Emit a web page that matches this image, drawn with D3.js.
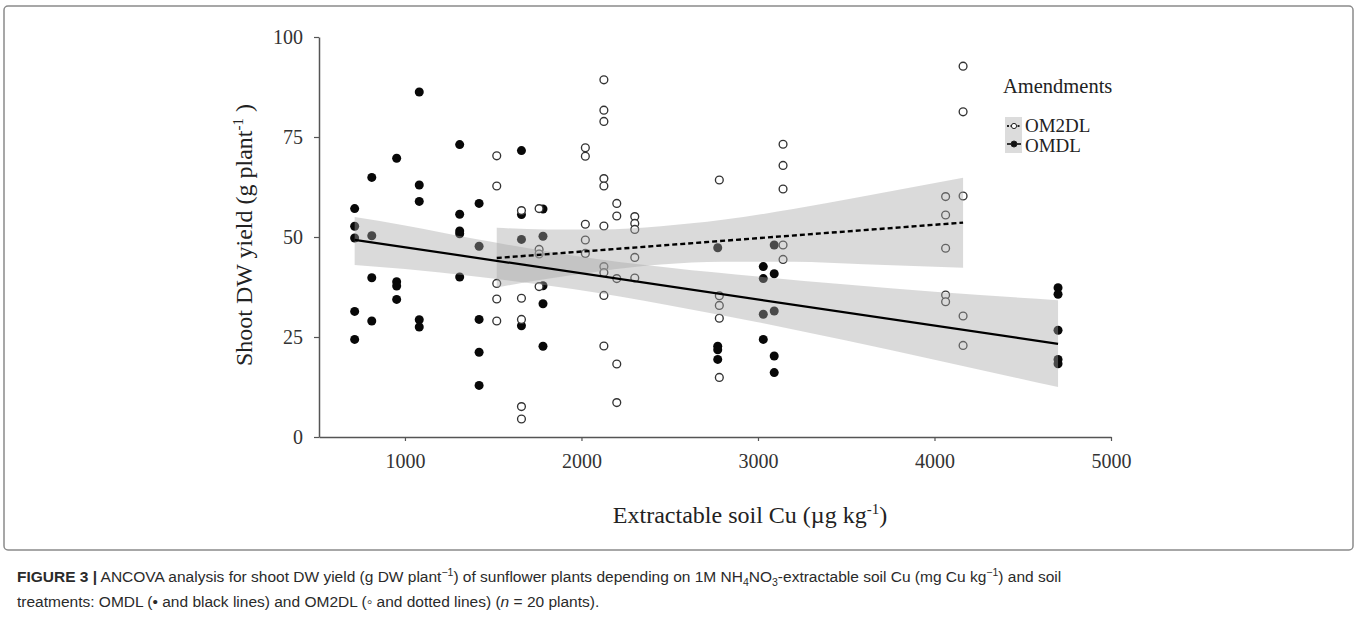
<!DOCTYPE html>
<html><head><meta charset="utf-8">
<script src="https://cdn.jsdelivr.net/npm/d3@7/dist/d3.min.js"></script>
<style>
html,body{margin:0;padding:0;background:#fff;}
svg{display:block;}
</style></head>
<body>
<svg id="chart" width="1360" height="623"></svg>
<script>
// ---------- data ----------
const xTicks = [1000, 2000, 3000, 4000, 5000];
const yTicks = [0, 25, 50, 75, 100];

// OMDL (filled dots): x positions and y values
const omdlX = [715,715,715,715,715, 812,812,812,812, 953,953,953,953,
  1081,1081,1081,1081,1081, 1310,1310,1310,1310,1310, 1420,1420,1420,1420,1420,
  1660,1660,1660,1660, 1782,1782,1782,1782,1782, 2772,2772,2772,2772,
  3030,3030,3030,3030, 3092,3092,3092,3092,3092, 4700,4700,4700,4700,4700];
const omdlY = [57.1,52.7,49.75,31.4,24.4, 64.9,50.3,39.8,29.0, 69.7,38.8,37.75,34.4,
  86.25,63.0,58.9,29.3,27.5, 73.1,55.7,51.5,50.8,40.0, 58.4,47.7,29.4,21.2,12.9,
  71.6,55.6,49.4,27.8, 57.0,50.2,37.8,33.3,22.7, 47.3,22.7,21.8,19.4,
  42.6,39.6,30.7,24.4, 48.0,40.8,31.5,20.25,16.1, 37.3,35.7,26.7,19.4,18.3];

// OM2DL (open circles)
const om2dlX = [1520,1520,1520,1520,1520, 1660,1660,1660,1660,1660, 1760,1760,1760,1760,
  2022,2022,2022,2022,2022, 2127,2127,2127,2127,2127,2127,2127,2127,2127,2127,
  2200,2200,2200,2200,2200, 2302,2302,2302,2302,2302, 2781,2781,2781,2781,2781,
  3142,3142,3142,3142,3142, 4063,4063,4063,4063,4063, 4162,4162,4162,4162,4162];
const om2dlY = [70.3,62.75,38.4,34.5,29.0, 56.6,34.7,29.4,7.6,4.5, 57.1,46.9,45.75,37.6,
  72.3,70.2,53.2,49.25,45.9, 89.3,81.7,78.9,64.6,62.75,52.75,42.6,41.1,35.4,22.75,
  58.4,55.25,39.6,18.25,8.6, 55.1,53.4,51.9,44.9,39.75, 64.25,35.3,32.9,29.7,14.9,
  73.2,67.9,62.0,48.0,44.4, 60.1,55.5,47.2,35.5,33.8, 92.7,81.3,60.25,30.25,22.9];

// fitted lines (end points)
const omdlLineX = [715, 4700];
const omdlLineY = [49.3, 23.3];
const om2dlLineX = [1520, 4162];
const om2dlLineY = [44.75, 53.6];

// confidence bands (x, lower, upper) read at several positions
const omdlBandX  = [715, 1000, 1400, 1950, 2500, 3000, 3500, 4000, 4700];
const omdlBandLo = [43.0, 42.0, 40.1, 37.0, 32.9, 28.7, 24.1, 19.3, 12.5];
const omdlBandHi = [55.0, 52.9, 49.5, 45.4, 42.3, 40.1, 38.1, 36.3, 34.2];
const om2dlBandX  = [1520, 1800, 2100, 2450, 2800, 3200, 3600, 4162];
const om2dlBandLo = [37.4, 39.5, 41.4, 43.1, 43.8, 43.8, 43.2, 42.3];
const om2dlBandHi = [52.3, 51.9, 51.9, 52.7, 54.3, 57.0, 60.2, 64.8];

const legendLabels = ["OM2DL", "OMDL"];

// ---------- drawing ----------
const svg = d3.select("#chart");
const serif = "'Liberation Serif','Times New Roman',serif";
const sans = "'Liberation Sans',Arial,Helvetica,sans-serif";

// frame
svg.append("rect").attr("x", 4).attr("y", 6).attr("width", 1349).attr("height", 544)
  .attr("rx", 4).attr("fill", "#fff").attr("stroke", "#8a8a8a").attr("stroke-width", 1.5);

const x = d3.scaleLinear().domain([513, 5000]).range([319, 1111]);
const y = d3.scaleLinear().domain([0, 100]).range([437, 37]);

// points
const g = svg.append("g");
g.selectAll("circle.f").data(omdlX.map((v, i) => [v, omdlY[i]])).join("circle")
  .attr("class", "f").attr("cx", d => x(d[0])).attr("cy", d => y(d[1]))
  .attr("r", 4.5).attr("fill", "#080808");
g.selectAll("circle.o").data(om2dlX.map((v, i) => [v, om2dlY[i]])).join("circle")
  .attr("class", "o").attr("cx", d => x(d[0])).attr("cy", d => y(d[1]))
  .attr("r", 3.9).attr("fill", "#fff").attr("stroke", "#333").attr("stroke-width", 1.35);

// bands (semi-transparent on top of points)
const area = d3.area().x(d => x(d[0])).y0(d => y(d[1])).y1(d => y(d[2])).curve(d3.curveMonotoneX);
svg.append("path").datum(omdlBandX.map((v, i) => [v, omdlBandLo[i], omdlBandHi[i]]))
  .attr("d", area).attr("fill", "rgb(168,168,168)").attr("fill-opacity", 0.42);
svg.append("path").datum(om2dlBandX.map((v, i) => [v, om2dlBandLo[i], om2dlBandHi[i]]))
  .attr("d", area).attr("fill", "rgb(168,168,168)").attr("fill-opacity", 0.42);

// regression lines
const line = d3.line().x(d => x(d[0])).y(d => y(d[1]));
svg.append("path").datum(omdlLineX.map((v, i) => [v, omdlLineY[i]]))
  .attr("d", line).attr("stroke", "#000").attr("stroke-width", 2.2).attr("fill", "none");
svg.append("path").datum(om2dlLineX.map((v, i) => [v, om2dlLineY[i]]))
  .attr("d", line).attr("stroke", "#000").attr("stroke-width", 2.4).attr("fill", "none")
  .attr("stroke-dasharray", "5,3");

// axes
const xAxis = svg.append("g").attr("transform", "translate(0,437)")
  .call(d3.axisBottom(x).tickValues(xTicks).tickFormat(d3.format("d")).tickSize(4).tickPadding(13).tickSizeOuter(0));
const yAxis = svg.append("g").attr("transform", "translate(319,0)")
  .call(d3.axisLeft(y).tickValues(yTicks).tickSize(5).tickPadding(11).tickSizeOuter(0));
[xAxis, yAxis].forEach(a => {
  a.select(".domain").attr("stroke", "#555").attr("stroke-width", 1.5);
  a.selectAll(".tick line").attr("stroke", "#555").attr("stroke-width", 1.2);
  a.selectAll(".tick text").attr("font-family", serif).attr("font-size", 20).attr("fill", "#333");
});

// axis titles
const yt = svg.append("text").attr("transform", "translate(252,235) rotate(-90)")
  .attr("text-anchor", "middle").attr("font-family", serif).attr("font-size", 24).attr("fill", "#222");
yt.append("tspan").text("Shoot DW yield (g plant");
yt.append("tspan").attr("font-size", 15).attr("dy", -9).text("-1");
yt.append("tspan").attr("dy", 9).text(" )");

const xt = svg.append("text").attr("x", 750).attr("y", 523)
  .attr("text-anchor", "middle").attr("font-family", serif).attr("font-size", 24).attr("fill", "#222");
xt.append("tspan").text("Extractable soil Cu (µg kg");
xt.append("tspan").attr("font-size", 15).attr("dy", -9).text("-1");
xt.append("tspan").attr("dy", 9).text(")");

// legend
svg.append("text").attr("x", 1003).attr("y", 93).attr("font-family", serif)
  .attr("font-size", 20.5).attr("fill", "#222").text("Amendments");
svg.append("rect").attr("x", 1005).attr("y", 117).attr("width", 17).attr("height", 36).attr("fill", "#dcdcdc");
const leg = svg.append("g");
leg.selectAll("text").data(legendLabels).join("text")
  .attr("x", 1025).attr("y", (d, i) => 132 + i * 19.5)
  .attr("font-family", serif).attr("font-size", 19).attr("fill", "#222").text(d => d);
leg.selectAll("line").data(legendLabels).join("line")
  .attr("x1", 1007).attr("x2", 1021).attr("y1", (d, i) => 126 + i * 18).attr("y2", (d, i) => 126 + i * 18)
  .attr("stroke", "#222").attr("stroke-width", 1.8).attr("stroke-dasharray", (d, i) => i === 0 ? "2,1.5" : null);
leg.selectAll("circle").data(legendLabels).join("circle")
  .attr("cx", 1014).attr("cy", (d, i) => 126 + i * 18).attr("r", (d, i) => i === 0 ? 2.6 : 3)
  .attr("fill", (d, i) => i === 0 ? "#fff" : "#111").attr("stroke", "#222").attr("stroke-width", 1);

// caption
const c1 = svg.append("text").attr("x", 17).attr("y", 582).attr("font-family", sans)
  .attr("font-size", 15.5).attr("fill", "#2a2a2a");
c1.append("tspan").attr("font-weight", "bold").text("FIGURE 3 |");
c1.append("tspan").text(" ANCOVA analysis for shoot DW yield (g DW plant");
c1.append("tspan").attr("font-size", 10.5).attr("dy", -6).text("−1");
c1.append("tspan").attr("dy", 6).text(") of sunflower plants depending on 1M NH");
c1.append("tspan").attr("font-size", 10.5).attr("dy", 4).text("4");
c1.append("tspan").attr("dy", -4).text("NO");
c1.append("tspan").attr("font-size", 10.5).attr("dy", 4).text("3");
c1.append("tspan").attr("dy", -4).text("-extractable soil Cu (mg Cu kg");
c1.append("tspan").attr("font-size", 10.5).attr("dy", -6).text("−1");
c1.append("tspan").attr("dy", 6).text(") and soil");

const c2 = svg.append("text").attr("x", 17).attr("y", 607).attr("font-family", sans)
  .attr("font-size", 15.5).attr("fill", "#2a2a2a");
c2.append("tspan").text("treatments: OMDL (• and black lines) and OM2DL (◦ and dotted lines) (");
c2.append("tspan").attr("font-style", "italic").text("n");
c2.append("tspan").text(" = 20 plants).");
</script>
</body></html>
